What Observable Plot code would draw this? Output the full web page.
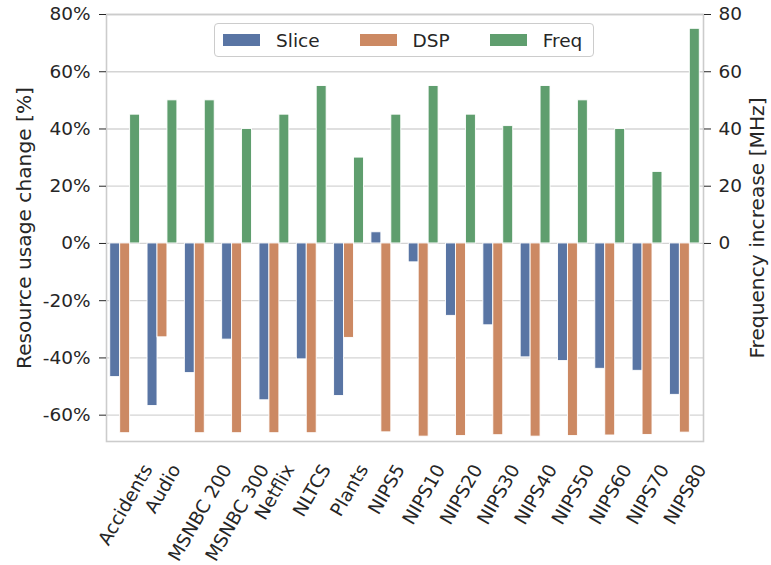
<!DOCTYPE html>
<html>
<head>
<meta charset="utf-8">
<script src="https://cdn.jsdelivr.net/npm/d3@7"></script>
<script src="https://cdn.jsdelivr.net/npm/@observablehq/plot@0.6"></script>
<style>
  body { margin: 0; background: #fff; font-family: "DejaVu Sans", sans-serif; }
  #chart { position: relative; width: 771px; height: 565px; }
  #chart svg { display: block; }
  .legend {
    position: absolute; left: 214px; top: 23px; width: 380px; height: 34px;
    box-sizing: border-box; border: 1px solid #cccccc; border-radius: 4px;
    background: rgba(255, 255, 255, 0.85); display: flex; align-items: center;
    padding-left: 8px; font-size: 18.5px; color: #262626;
  }
  .legend .item { display: flex; align-items: center; margin-right: 40px; }
  .legend .sw { width: 37px; height: 12px; margin-right: 16px; }
</style>
</head>
<body>
<div id="chart"></div>
<script>
// Datasets on the x axis
const categories = ["Accidents", "Audio", "MSNBC 200", "MSNBC 300", "Netflix", "NLTCS", "Plants",
  "NIPS5", "NIPS10", "NIPS20", "NIPS30", "NIPS40", "NIPS50", "NIPS60", "NIPS70", "NIPS80"];

// Resource usage change [%]
const sliceChange = [-46.7, -56.8, -45.3, -33.6, -54.8, -40.5, -53.3, 3.9, -6.6, -25.3, -28.6, -39.8, -41.1, -43.8, -44.5, -52.9];
const dspChange = [-66.3, -32.8, -66.3, -66.3, -66.3, -66.3, -33.0, -66.0, -67.5, -67.3, -67.0, -67.5, -67.3, -67.1, -66.9, -66.1];
// Frequency increase [MHz]
const freqIncrease = [45, 50, 50, 40, 45, 55, 30, 45, 55, 45, 41, 55, 50, 40, 25, 75];

const series = ["Slice", "DSP", "Freq"];
const seriesColors = ["#5975a4", "#cc8963", "#5f9e6e"];

const pctTicks = [-60, -40, -20, 0, 20, 40, 60, 80];
const freqTicks = [0, 20, 40, 60, 80];

const leftLabel = "Resource usage change [%]";
const rightLabel = "Frequency increase [MHz]";

// Grouped bars: each dataset occupies 0.8 of its unit slot, split among the series
const groupWidth = 0.8;
const barWidth = groupWidth / series.length;
const valuesBySeries = [sliceChange, dspChange, freqIncrease];
const rows = categories.flatMap((name, i) =>
  series.map((s, k) => ({
    name,
    series: s,
    value: valuesBySeries[k][i],
    x1: i - groupWidth / 2 + k * barWidth,
    x2: i - groupWidth / 2 + (k + 1) * barWidth
  }))
);

const ink = "#262626";
const W = 771, H = 565;
const margin = { top: 14, right: 68, bottom: 124, left: 106 };
const labelAngle = -60;

const chart = Plot.plot({
  width: W,
  height: H,
  marginLeft: margin.left,
  marginRight: margin.right,
  marginTop: margin.top,
  marginBottom: margin.bottom,
  style: { fontFamily: "DejaVu Sans", fontSize: "18.5px", color: ink, background: "white", overflow: "visible" },
  x: { domain: [-0.5, categories.length - 0.5] },
  y: { domain: [-69.2, 80] },
  color: { domain: series, range: seriesColors },
  marks: [
    Plot.gridY(pctTicks, { stroke: "#d4d4d4", strokeOpacity: 1, strokeWidth: 1.3 }),
    Plot.rect(rows, { x1: "x1", x2: "x2", y1: 0, y2: "value", fill: "series", stroke: "white", strokeWidth: 0.9 }),
    Plot.frame({ stroke: "#cccccc", strokeWidth: 1.6 }),
    Plot.axisY(pctTicks, { anchor: "left", tickFormat: (d) => d + "%", tickSize: 7, tickPadding: 9, label: null }),
    Plot.axisY(freqTicks, { anchor: "right", tickFormat: (d) => String(d), tickSize: 7, tickPadding: 8, label: null }),
    Plot.axisX(d3.range(categories.length), {
      tickFormat: (i) => categories[i], tickRotate: labelAngle, tickSize: 0, tickPadding: 10, label: null
    }),
    Plot.text([leftLabel], { text: (d) => d, frameAnchor: "left", textAnchor: "middle", rotate: -90, dx: -82, fontSize: 20.2, fill: ink }),
    Plot.text([rightLabel], { text: (d) => d, frameAnchor: "right", textAnchor: "middle", rotate: -90, dx: 54, fontSize: 20.2, fill: ink })
  ]
});

const root = document.getElementById("chart");
root.append(chart);

// Rotated tick labels: centre each label's rotated bounding box on its tick,
// with the top of the box a fixed distance below the frame
const labelTop = H - margin.bottom + 9;
const rad = (labelAngle * Math.PI) / 180;
chart.querySelectorAll('g[aria-label="x-axis tick label"] text').forEach((t) => {
  const m = /translate\(\s*([-\d.e]+)[,\s]+([-\d.e]+)\s*\)/.exec(t.getAttribute("transform") || "");
  if (!m) return;
  const x0 = +m[1];
  t.setAttribute("text-anchor", "start");
  t.removeAttribute("dy");
  t.setAttribute("transform", "");
  const b = t.getBBox();
  const corners = [[b.x, b.y], [b.x + b.width, b.y], [b.x, b.y + b.height], [b.x + b.width, b.y + b.height]]
    .map(([px, py]) => [px * Math.cos(rad) - py * Math.sin(rad), px * Math.sin(rad) + py * Math.cos(rad)]);
  const xs = corners.map((c) => c[0]), ys = corners.map((c) => c[1]);
  const cx = (Math.min(...xs) + Math.max(...xs)) / 2;
  const top = Math.min(...ys);
  t.setAttribute("transform", `translate(${(x0 - cx).toFixed(2)},${(labelTop - top).toFixed(2)}) rotate(${labelAngle})`);
});

// Legend inside the plot area
const legend = document.createElement("div");
legend.className = "legend";
series.forEach((s, k) => {
  const item = document.createElement("div");
  item.className = "item";
  const sw = document.createElement("span");
  sw.className = "sw";
  sw.style.background = seriesColors[k];
  const label = document.createElement("span");
  label.textContent = s;
  item.append(sw, label);
  legend.append(item);
});
root.append(legend);
</script>
</body>
</html>
